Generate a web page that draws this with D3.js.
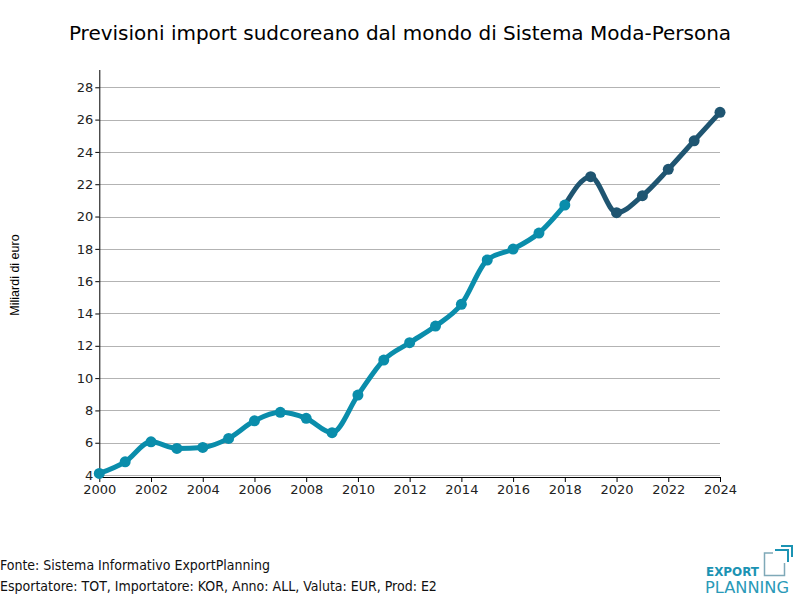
<!DOCTYPE html>
<html><head><meta charset="utf-8">
<script src="https://cdn.jsdelivr.net/npm/d3@7"></script>
<style>body{margin:0;background:#fff}svg{display:block}</style>
</head><body><svg id="c" width="800" height="600"></svg>
<script>
const years = d3.range(2000, 2025);
const histValues = [4.1,4.82,6.06,5.65,5.71,6.27,7.36,7.88,7.51,6.62,8.95,11.12,12.19,13.22,14.57,17.31,17.99,18.98,20.71];
const forecastValues = [20.71,22.47,20.24,21.29,22.92,24.69,26.45];
const yTicks = [4,6,8,10,12,14,16,18,20,22,24,26,28];
const xTicks = [2000,2002,2004,2006,2008,2010,2012,2014,2016,2018,2020,2022,2024];
const title = "Previsioni import sudcoreano dal mondo di Sistema Moda-Persona";
const yLabel = "Miliardi di euro";
const notes = ["Fonte: Sistema Informativo ExportPlanning","Esportatore: TOT, Importatore: KOR, Anno: ALL, Valuta: EUR, Prod: E2"];

const hist = histValues.map((v,i)=>({x:2000+i,y:v}));
const fc = forecastValues.map((v,i)=>({x:2018+i,y:v}));

const svg = d3.select("#c");
const x = d3.scaleLinear().domain([2000,2024]).range([99.3,720]);
const y = d3.scaleLinear().domain([3.88,29.07]).range([477,70]);

svg.append("text").attr("x",400).attr("y",40).attr("text-anchor","middle")
  .attr("font-family","DejaVu Sans").attr("font-size",20).attr("fill","#000").text(title);

// grid
svg.append("g").selectAll("line").data(yTicks).join("line")
  .attr("x1",x(2000)).attr("x2",720).attr("y1",d=>Math.round(y(d))+0.5).attr("y2",d=>Math.round(y(d))+0.5)
  .attr("stroke","#b3b3b3").attr("stroke-width",1);

const yAxis = svg.append("g").attr("transform",`translate(${x(2000)},0)`)
  .call(d3.axisLeft(y).tickValues(yTicks).tickSize(4).tickPadding(2));
const xAxis = svg.append("g").attr("transform",`translate(0,477)`)
  .call(d3.axisBottom(x).tickValues(xTicks).tickSize(5).tickPadding(3).tickFormat(d3.format("d")));
[yAxis,xAxis].forEach(a=>{
  a.selectAll("text").attr("font-family","DejaVu Sans").attr("font-size",13).attr("fill","#222");
  a.selectAll("line,path").attr("stroke","#000");
});
yAxis.select(".domain").attr("d",`M0.5,477V70`);
xAxis.select(".domain").attr("d",`M${x(2000)},0.5H720`);

svg.append("text").attr("transform","translate(19,275) rotate(-90)").attr("text-anchor","middle")
  .attr("font-family","Liberation Sans").attr("font-size",12.5).attr("fill","#000").text(yLabel);

const line = d3.line().x(d=>x(d.x)).y(d=>y(d.y)).curve(d3.curveMonotoneX);
const cHist="#0a8dab", cFc="#1f5571";
svg.append("path").datum(hist).attr("d",line).attr("fill","none").attr("stroke",cHist).attr("stroke-width",5).attr("stroke-linejoin","round");
svg.append("path").datum(fc).attr("d",line).attr("fill","none").attr("stroke",cFc).attr("stroke-width",5).attr("stroke-linejoin","round");
svg.append("g").selectAll("circle").data(hist).join("circle").attr("cx",d=>x(d.x)).attr("cy",d=>y(d.y)).attr("r",5.5).attr("fill",cHist);
svg.append("g").selectAll("circle").data(fc.slice(1)).join("circle").attr("cx",d=>x(d.x)).attr("cy",d=>y(d.y)).attr("r",5.5).attr("fill",cFc);

svg.append("g").selectAll("text").data(notes).join("text")
  .attr("x",0).attr("y",(d,i)=>570+i*21).attr("font-family","DejaVu Sans Condensed").attr("font-size",14)
  .attr("fill","#111").text(d=>d);

// logo
const lg = svg.append("g");
lg.append("text").attr("x",706).attr("y",575.5).attr("font-family","DejaVu Sans").attr("font-weight","bold")
  .attr("font-size",12.5).attr("fill","#1b93b3").attr("textLength",53).attr("lengthAdjust","spacingAndGlyphs").text("EXPORT");
lg.append("text").attr("x",705).attr("y",593).attr("font-family","DejaVu Sans").
  attr("font-size",16).attr("fill","#2a9ab8").attr("textLength",84).attr("lengthAdjust","spacingAndGlyphs").text("PLANNING");
lg.append("path").attr("d","M773,553H764.5V575.5H784.5V563").attr("fill","none").attr("stroke","#7fa9b8").attr("stroke-width",1.5);
lg.append("path").attr("d","M775,550H788V562").attr("fill","none").attr("stroke","#1b93b3").attr("stroke-width",2);
lg.append("path").attr("d","M781,546H792V557").attr("fill","none").attr("stroke","#1b93b3").attr("stroke-width",2);
</script></body></html>
